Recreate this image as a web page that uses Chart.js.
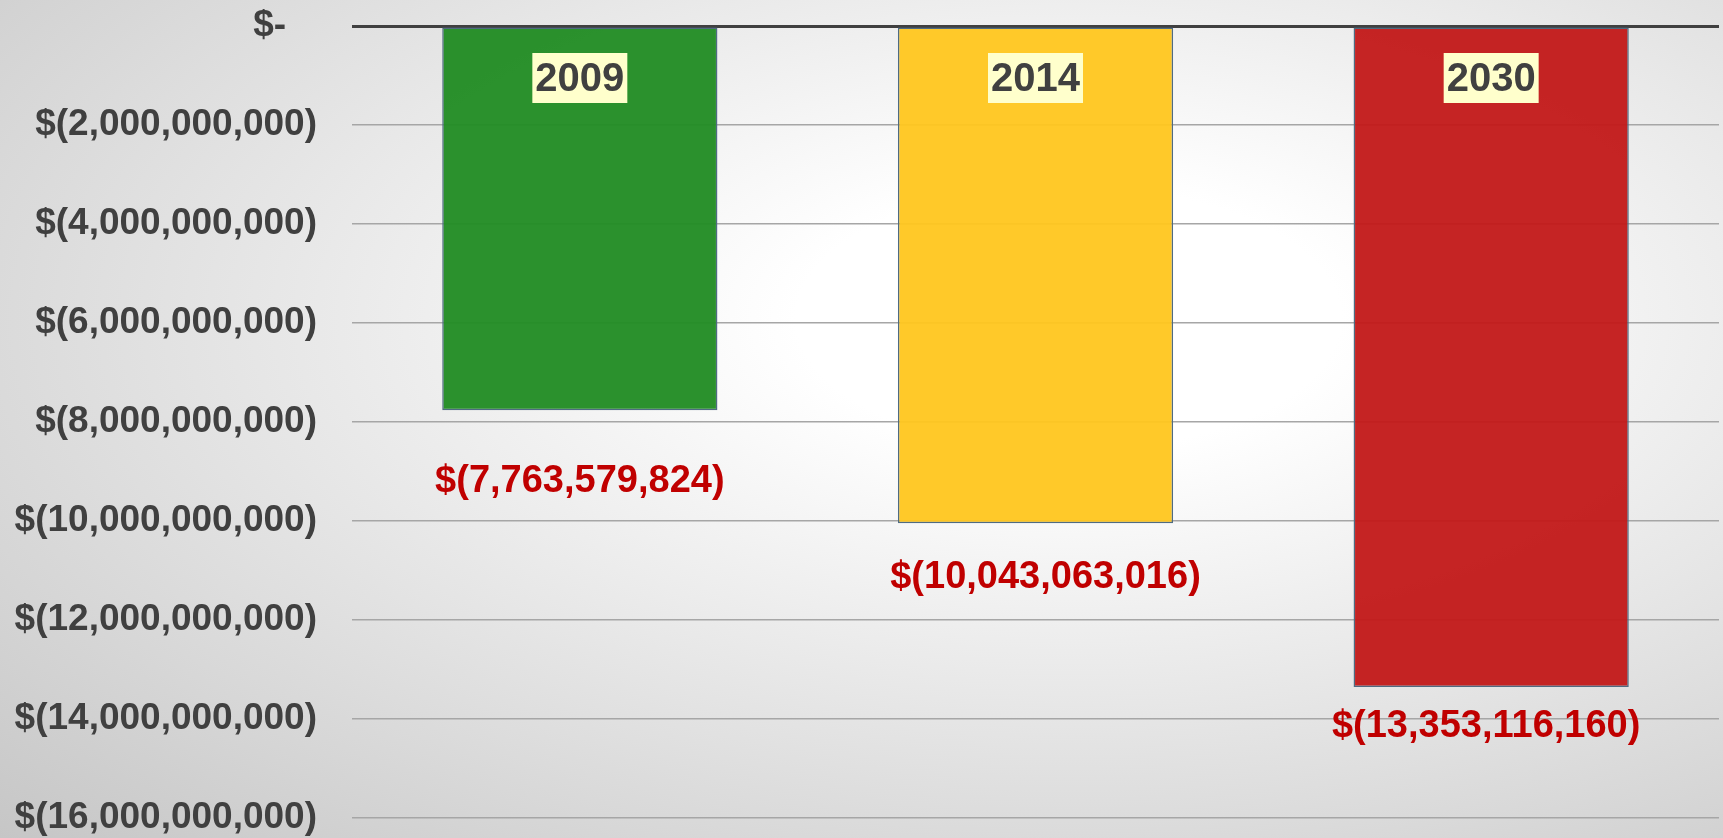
<!DOCTYPE html>
<html>
<head>
<meta charset="utf-8">
<script src="https://cdn.jsdelivr.net/npm/chart.js@4"></script>
<style>
  html, body { margin: 0; padding: 0; }
  body {
    width: 1723px; height: 838px; overflow: hidden;
    background: radial-gradient(ellipse at 62% 38%, #ffffff 0%, #ffffff 18%, #c6c6c6 100%);
  }
  canvas { display: block; }
</style>
</head>
<body>
<canvas id="grafico" width="1723" height="838"></canvas>
<script>
// dados do gráfico
const categorias = ["2009", "2014", "2030"];
const valores = [-7763579824, -10043063016, -13353116160];
const coresBarras = ["rgba(34,140,36,0.96)", "rgba(255,198,30,0.95)", "rgba(194,24,24,0.95)"];
const eixoMin = -16000000000;
const eixoMax = 0;
const eixoPasso = 2000000000;

const FONTE = "'Liberation Sans', Arial, sans-serif";

// formato contábil: $(1,234) ou $-
function moeda(v) {
  if (v === 0) return "$-   ";
  const s = Math.abs(v).toLocaleString("en-US");
  return v < 0 ? "$(" + s + ")" : "$" + s + " ";
}

// rótulos: ano dentro da barra e valor abaixo dela
const rotulos = {
  id: "rotulos",
  afterDatasetsDraw(chart) {
    const ctx = chart.ctx;
    const meta = chart.getDatasetMeta(0);
    const deslocY = [71, 54, 40];
    const deslocX = [0, 10, -5];
    ctx.save();
    meta.data.forEach((bar, i) => {
      // ano
      ctx.font = "bold 40px " + FONTE;
      const txt = categorias[i];
      const w = ctx.measureText(txt).width + 6;
      const yAno = chart.chartArea.top + 52;
      ctx.fillStyle = "#FFFFCC";
      ctx.fillRect(bar.x - w / 2, yAno - 25, w, 50);
      ctx.fillStyle = "#404040";
      ctx.textAlign = "center";
      ctx.textBaseline = "middle";
      ctx.fillText(txt, bar.x, yAno + 2);
      // valor
      ctx.font = "bold 38px " + FONTE;
      ctx.fillStyle = "#C00000";
      ctx.fillText(moeda(valores[i]), bar.x + deslocX[i], bar.y + deslocY[i]);
    });
    ctx.restore();
  }
};

new Chart(document.getElementById("grafico"), {
  type: "bar",
  data: {
    labels: categorias,
    datasets: [
      {
        data: valores,
        backgroundColor: coresBarras,
        borderColor: "#4F6B82",
        borderWidth: 1.5,
        borderSkipped: false,
        barPercentage: 0.604,
        categoryPercentage: 1.0,
      },
    ],
  },
  options: {
    responsive: false,
    animation: false,
    layout: { padding: { top: 26, bottom: 20, left: 0, right: 4 } },
    plugins: {
      legend: { display: false },
      tooltip: { enabled: false },
    },
    scales: {
      x: { display: false },
      y: {
        min: eixoMin,
        max: eixoMax,
        afterFit(scale) {
          scale.width = 352;
          scale.paddingTop = 0;
          scale.paddingBottom = 0;
        },
        border: { display: false },
        grid: {
          drawTicks: false,
          color: (c) => (c.tick && c.tick.value === 0 ? "#404040" : "#A6A6A6"),
          lineWidth: (c) => (c.tick && c.tick.value === 0 ? 3 : 1.5),
        },
        ticks: {
          stepSize: eixoPasso,
          padding: 35,
          color: "#404040",
          font: { family: FONTE, size: 37, weight: "bold" },
          callback: (v) => moeda(v),
        },
      },
    },
  },
  plugins: [rotulos],
});
</script>
</body>
</html>
